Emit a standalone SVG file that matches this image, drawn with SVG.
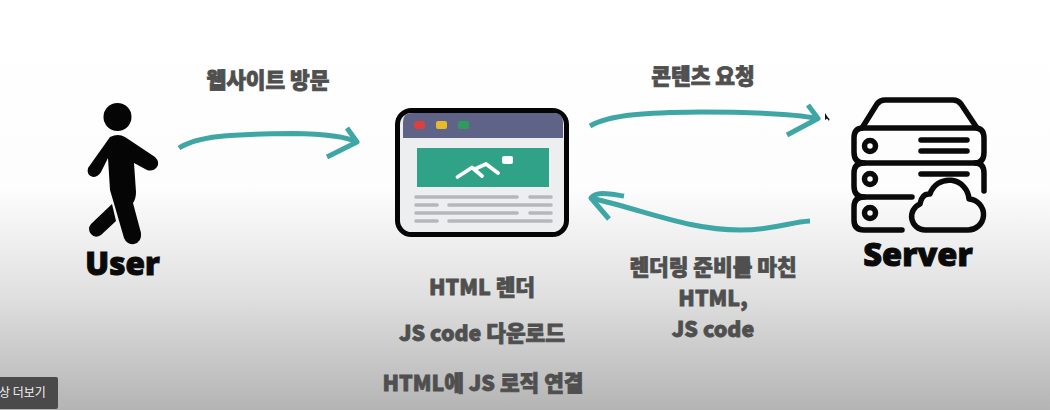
<svg xmlns="http://www.w3.org/2000/svg" width="1050" height="410" viewBox="0 0 1050 410">
<defs>
<linearGradient id="bg" x1="0" y1="0" x2="0" y2="1">
<stop offset="0" stop-color="#ffffff"/><stop offset="0.46" stop-color="#fdfdfd"/><stop offset="0.56" stop-color="#f2f2f2"/><stop offset="0.72" stop-color="#e0e0e0"/><stop offset="1" stop-color="#b4b4b4"/>
</linearGradient>
</defs>
<style>
.t{font-family:"Noto Sans CJK KR","Noto Sans",sans-serif;font-weight:900;fill:#4f4f4f;stroke:#4f4f4f;stroke-width:.8;text-anchor:middle;font-size:21.4px}
.big{font-family:"Noto Sans","Noto Sans CJK KR",sans-serif;font-weight:900;fill:#0a0a0a;stroke:#0a0a0a;stroke-width:1;text-anchor:middle;font-size:32.500px}
.arrow{fill:none;stroke:#3fa6a6;stroke-width:5;stroke-linecap:butt;stroke-linejoin:round}
.ln{fill:none;stroke:#0a0a0a;stroke-width:5.500;stroke-linecap:round;stroke-linejoin:round}
.bar{stroke:#b5b8bb;stroke-width:3.600;stroke-linecap:round}
</style>
<rect width="1050" height="410" fill="url(#bg)"/>
<g id="connectors">
<path class="arrow" d="M179 148C197 136 230 134 293 133.500C325 134 345 136 357 142M347 128L357 142L327 157"/>
<path class="arrow" d="M590 126C610 114 650 112.500 700 112C750 112 795 114 818 118.500M808 105L818 118.500L787 135"/>
<path class="arrow" d="M810 221C790 222 775 230 740 230C690 230 650 212 591 198M624 196C610 194 596 191 591 198L609 219"/>
</g>
<g id="user">
<circle cx="117.500" cy="117" r="14" fill="#050505"/>
<path fill="#050505" d="M110 137Q118 133 125 137L155 157Q160 162 157 167Q153 172 147 170L134 163L136 192Q136 199 133 203L141 233Q142 242 134 244Q127 245 124 238L115 207L110 190L108 158L101 172Q98 177 93 177Q86 175 88 168Z"/>
<path fill="#050505" d="M112 204L116 221L101 235Q95 239 91 234Q87 229 91 224Z"/>
<text class="big" x="122.500" y="275" style="font-size:31.500px">User</text>
</g>
<g id="browser">
<rect x="397.500" y="110.500" width="169" height="124" rx="14" fill="#eceeef" stroke="#050505" stroke-width="5"/>
<path fill="#5f6387" d="M403 138V122Q403 113 412 113H554Q563 113 563 122V138Z"/>
<rect x="414" y="121" width="11" height="8" rx="2" fill="#d9403f"/>
<rect x="436" y="121" width="11" height="8" rx="2" fill="#e8b92d"/>
<rect x="458" y="121" width="11" height="8" rx="2" fill="#2f9d5a"/>
<rect x="417" y="148" width="132" height="39" fill="#2fa287"/>
<path d="M457.500 177L472 167.500L482 176M475 169L486 164L498 173" fill="none" stroke="#fff" stroke-width="3.800" stroke-linecap="round" stroke-linejoin="round"/>
<rect x="502" y="156" width="11" height="8" rx="2" fill="#fff"/>
<line class="bar" x1="416" y1="197" x2="517" y2="197"/><line class="bar" x1="530" y1="197" x2="551" y2="197"/>
<line class="bar" x1="416" y1="205" x2="437" y2="205"/><line class="bar" x1="449" y1="205" x2="551" y2="205"/>
<line class="bar" x1="416" y1="213" x2="517" y2="213"/><line class="bar" x1="530" y1="213" x2="551" y2="213"/>
<line class="bar" x1="416" y1="221" x2="437" y2="221"/><line class="bar" x1="449" y1="221" x2="551" y2="221"/>
</g>
<g id="server">
<path class="ln" d="M862 128L877 104Q880 100 885 100H953Q958 100 961 104L977 128"/>
<path class="ln" d="M863 128H975Q984 128 984 138V152Q984 163 975 163H864Q854 163 854 152V138Q854 128 863 128Z"/>
<path class="ln" d="M864 163Q854 163 854 173V186Q854 197 864 197H912M975 163Q984 163 984 173V191"/>
<path class="ln" d="M864 197Q854 197 854 207V220Q854 230 864 230H902"/>
<circle class="ln" cx="870" cy="146" r="5.500" stroke-width="5"/><circle class="ln" cx="870" cy="179" r="5.500" stroke-width="5"/><circle class="ln" cx="870" cy="213" r="5.500" stroke-width="5"/>
<path class="ln" d="M921 140H967M921 151H967M921 174H967"/>
<path class="ln" d="M925 230H967A15.500 15.500 0 0 0 969 199A20 20 0 0 0 930 194Q922 193 920 204A13.500 13.500 0 0 0 925 230Z"/>
<text class="big" x="918" y="266">Server</text>
</g>
<g id="labels">
<text class="t" x="268" y="88">웹사이트 방문</text>
<text class="t" x="703" y="84">콘텐츠 요청</text>
<text class="t" x="713" y="275">렌더링 준비를 마친</text>
<text class="t" x="713" y="306">HTML,</text>
<text class="t" x="713" y="337">JS code</text>
<text class="t" x="482" y="295">HTML 렌더</text>
<text class="t" x="482" y="341">JS code 다운로드</text>
<text class="t" x="483" y="391">HTML에 JS 로직 연결</text>
</g>
<path id="cursor" d="M825 113L825 120L827 118.500L829 121L829.500 119L828 117.500Z" fill="#111"/>
<g id="button">
<rect x="-6" y="377" width="64" height="32" rx="2" fill="#4a4a4a"/>
<text x="-1" y="397" font-family="'Noto Sans CJK KR',sans-serif" font-size="12" fill="#f2f2f2">상 더보기</text>
</g>
</svg>
